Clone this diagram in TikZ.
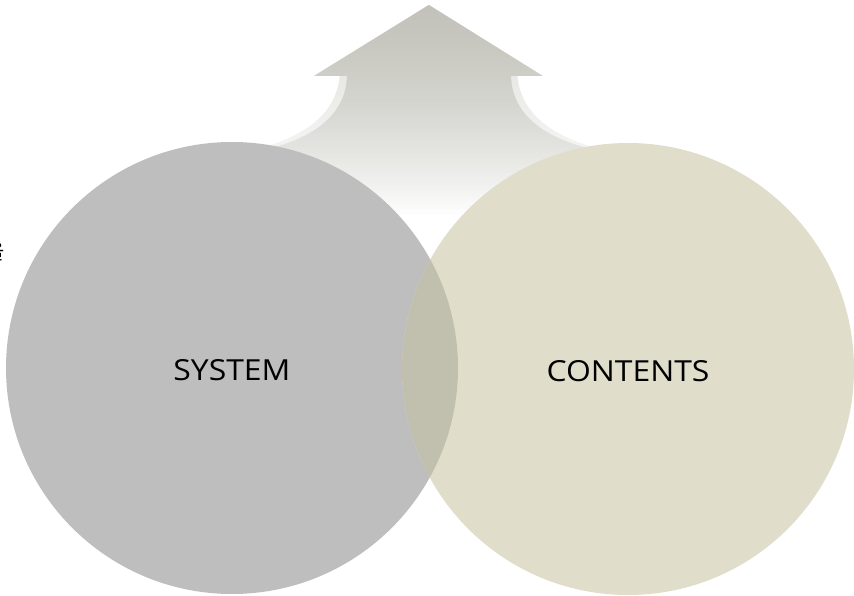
\documentclass[tikz,border=0pt]{standalone}
\usepackage{fontspec}
\setmainfont{Open Sans}[FakeStretch=1.1]
\newfontfamily\krfont{Noto Sans CJK KR}
\usetikzlibrary{fadings}
\definecolor{sysgray}{RGB}{190,190,190}
\definecolor{conbeige}{RGB}{224,221,203}
\definecolor{lensc}{RGB}{193,191,174}
\definecolor{arrowc}{RGB}{194,194,186}
\tikzfading[name=fadedown, top color=transparent!0, bottom color=transparent!100]
\tikzset{
  bigcircle/.style={circle, minimum size=452pt, inner sep=0pt, draw=none},
  lbl/.style={font=\fontsize{29}{34}\selectfont, text=black, inner sep=0pt},
}
\begin{document}
\begin{tikzpicture}[x=1pt,y=-1pt]
\useasboundingbox (0,0) rectangle (854,596);
\fill[white] (0,0) rectangle (854,596);
% outer faint band of arrow
\fill[arrowc, opacity=0.55, path fading=fadedown]
  (429,5) -- (543,76) -- (518,76)
  .. controls (521,112) and (550,138) .. (612,152)
  .. controls (642,160) .. (682,172) -- (682,215) -- (176,215) -- (176,172)
  .. controls (216,160) .. (246,152)
  .. controls (308,138) and (337,112) .. (340,76) -- (314,76) -- cycle;
% arrow body
\fill[arrowc, path fading=fadedown]
  (429,5) -- (543,76) -- (511,76)
  .. controls (512,110) and (538,138) .. (597,150)
  .. controls (630,157) .. (670,168) -- (670,215) -- (188,215) -- (188,168)
  .. controls (228,157) .. (262,150)
  .. controls (320,138) and (346,110) .. (347,76) -- (314,76) -- cycle;
% circles
\node[bigcircle, fill=sysgray] (sys) at (232,368) {};
\node[bigcircle, fill=conbeige] (con) at (628,369) {};
\begin{scope}
  \clip (232,368) circle (226);
  \fill[lensc] (628,369) circle (226);
\end{scope}
% labels
\node[lbl] (systxt) at (232,370.5) {SYSTEM};
\node[lbl] (contxt) at (628,371) {CONTENTS};
\node[font=\krfont\fontsize{21}{24}\selectfont, inner sep=0pt, anchor=east] (kr) at (5,252) {을};
\end{tikzpicture}
\end{document}
